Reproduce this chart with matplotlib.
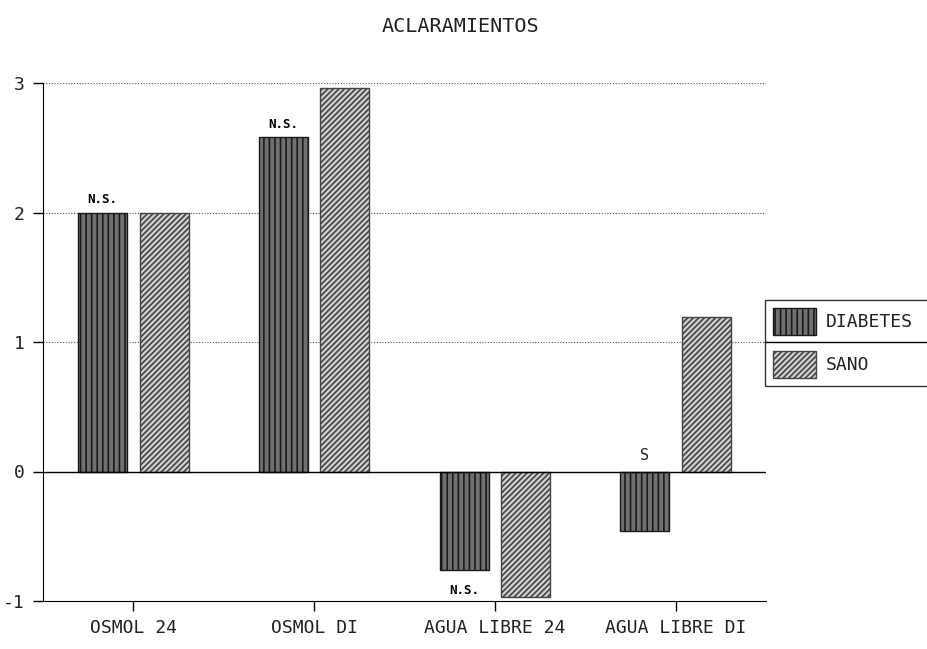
import matplotlib
matplotlib.use("Agg")
import matplotlib.pyplot as plt
import numpy as np
from matplotlib.patches import Patch
from matplotlib.lines import Line2D

categories = ["OSMOL 24", "OSMOL DI", "AGUA LIBRE 24", "AGUA LIBRE DI"]
diabetes = [2.0, 2.58, -0.76, -0.46]
sano = [2.0, 2.96, -0.97, 1.19]
series_names = ["DIABETES", "SANO"]
annotations = ["N.S.", "N.S.", "N.S.", "S"]
yticks = [-1, 0, 1, 2, 3]

MONO = 'DejaVu Sans Mono'
plt.rcParams['font.family'] = [MONO]
plt.rcParams['hatch.linewidth'] = 1.2

fig = plt.figure(figsize=(9.27, 6.49), dpi=100)
ax = fig.add_axes([43/927, 1-601/649, (766-43)/927, (601-83)/649])

x = np.arange(len(categories))
w = 0.27
off = 0.17
fc1, ec1, h1 = '#707070', '#1a1a1a', '|||'
fc2, ec2, h2 = '#cfcfcf', '#444444', '//////'
ax.bar(x - off, diabetes, w, facecolor=fc1, edgecolor=ec1, hatch=h1, linewidth=1.0, zorder=3)
ax.bar(x + off, sano, w, facecolor=fc2, edgecolor=ec2, hatch=h2, linewidth=1.0, zorder=3)

ax.set_xlim(-0.5, 3.5)
ax.set_ylim(-1, 3)
for yv in [1, 2, 3]:
    ax.axhline(yv, color='#555555', linestyle=(0, (1, 1.5)), linewidth=0.8, zorder=1)
ax.axhline(0, color='black', linewidth=1.0, zorder=4)

ax.spines['top'].set_visible(False)
ax.spines['right'].set_visible(False)
ax.set_yticks(yticks)
ax.set_yticklabels([str(v) for v in yticks], fontsize=13, color='#222222')
ax.set_xticks(x)
ax.set_xticklabels(categories, fontsize=13, color='#222222')
ax.tick_params(axis='both', length=7, width=1.0, pad=6)

for i, (val, txt) in enumerate(zip(diabetes, annotations)):
    if i == 2:
        ax.text(x[i] - off, -0.92, txt, ha='center', va='center',
                fontsize=9, fontweight='bold')
    elif val >= 0:
        ax.text(x[i] - off, val + 0.1, txt, ha='center', va='center',
                fontsize=9, fontweight='bold')
    else:
        ax.text(x[i] - off, 0.12, txt, ha='center', va='center',
                fontsize=11, color='#222222')

fig.text(460/927, 1-27/649, "ACLARAMIENTOS", ha='center', va='center',
         fontsize=14.5, color='#222222')

handles = [Patch(facecolor=fc1, edgecolor=ec1, hatch=h1),
           Patch(facecolor=fc2, edgecolor=ec2, hatch=h2)]
leg = fig.legend(handles, series_names, loc='upper left',
                 bbox_to_anchor=(765/927, 1-385/649, 200/927, 85/649),
                 bbox_transform=fig.transFigure, mode='expand',
                 frameon=True, fancybox=False, edgecolor='black', fontsize=13,
                 handlelength=2.4, handleheight=1.9, labelspacing=0.9,
                 borderpad=0.45, handletextpad=0.5, borderaxespad=0)
leg.get_frame().set_linewidth(1.0)
for t in leg.get_texts():
    t.set_color('#222222')
fig.add_artist(Line2D([765/927, 1], [1-342/649, 1-342/649], color='black',
                      linewidth=1.0, transform=fig.transFigure, zorder=10))

fig.savefig("out.png", dpi=100)
